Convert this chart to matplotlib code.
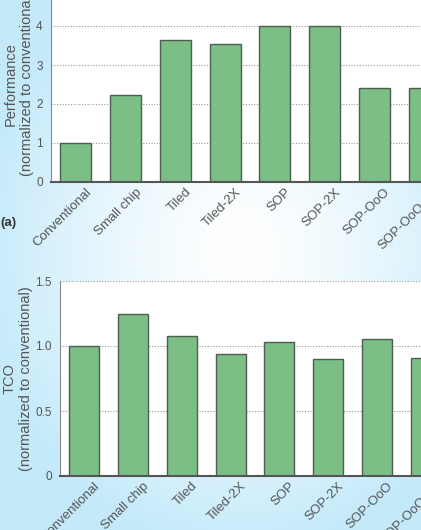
import numpy as np
import matplotlib
matplotlib.use('Agg')
import matplotlib.pyplot as plt

plt.rcParams['font.family'] = ['Liberation Sans', 'DejaVu Sans']

designs = ['Conventional', 'Small chip', 'Tiled', 'Tiled-2X', 'SOP', 'SOP-2X',
           'SOP-OoO', 'SOP-OoO-2X']
performance = [1.0, 2.22, 3.64, 3.53, 4.0, 4.0, 2.42, 2.41]
tco = [1.0, 1.25, 1.077, 0.94, 1.033, 0.90, 1.054, 0.905]

W, H = 421, 530
fig = plt.figure(figsize=(W / 100, H / 100), dpi=100)

# light blue backdrop, whiter in the middle
bg = fig.add_axes([0, 0, 1, 1], zorder=-10)
yy, xx = np.mgrid[0:H, 0:W]
d = np.sqrt(((xx - 240) / 260.0) ** 2 + ((yy - 250) / 300.0) ** 2)
t = np.clip(d, 0, 1) ** 1.4
edge = np.array([196, 234, 250]) / 255.0
img = (1 - t)[..., None] * np.ones(3) + t[..., None] * edge
bg.imshow(img, aspect='auto')
bg.axis('off')

bar_col = '#7bbf87'
edge_col = '#4d5e50'
txt_col = '#555555'


def panel(rect, values, ylim, yticks, yticklabels, ylabel):
    ax = fig.add_axes(rect)
    ax.set_facecolor('white')
    x = np.arange(len(values))
    ax.bar(x, values, width=0.62, color=bar_col, edgecolor=edge_col,
           linewidth=1.0, zorder=3)
    ax.set_xlim(-0.5, len(values) - 0.5)
    ax.set_ylim(*ylim)
    ax.set_yticks(yticks)
    ax.set_yticklabels(yticklabels)
    ax.yaxis.grid(True, linestyle=(0, (1, 1.5)), color='#999999', linewidth=0.8, zorder=0)
    ax.set_xticks(x)
    ax.set_xticklabels([])
    # rotated category names, nudged right of each bar like the original
    for i, name in enumerate(designs):
        ax.annotate(name, xy=(i, 0), xycoords=('data', 'axes fraction'),
                    xytext=(10, -6), textcoords='offset points',
                    rotation=45, ha='right', va='center',
                    rotation_mode='anchor', fontsize=9.5, color=txt_col,
                    annotation_clip=False)
    ax.tick_params(length=0, colors=txt_col)
    ax.tick_params(axis='y', pad=6, labelsize=8.5)
    for s in ['top', 'right']:
        ax.spines[s].set_visible(False)
    ax.spines['left'].set_color('#888888')
    ax.spines['left'].set_linewidth(0.8)
    ax.spines['bottom'].set_color('#555555')
    ax.spines['bottom'].set_linewidth(1.5)
    ax.spines['bottom'].set_zorder(4)
    ax.set_ylabel(ylabel, fontsize=10.5, color=txt_col, linespacing=1.2)
    return ax


ax1 = panel([51 / W, 1 - 182 / H, 398 / W, 195 / H], performance, (0, 5),
            [0, 1, 2, 3, 4, 5], ['0', '1', '2', '3', '4', '5'],
            'Performance\n(normalized to conventional)')
ax2 = panel([60 / W, 1 - 476 / H, 390 / W, 195 / H], tco, (0, 1.5),
            [0, 0.5, 1.0, 1.5], ['0', '0.5', '1.0', '1.5'],
            'TCO\n(normalized to conventional)')

ax1.yaxis.set_label_coords(34 / W, 1 - 84 / H, transform=fig.transFigure)
ax2.yaxis.set_label_coords(33 / W, 1 - 379 / H, transform=fig.transFigure)

fig.text(0 / W, 1 - 223 / H, '(a)', fontsize=9.5, fontweight='bold',
         color='#333333', va='center', ha='left')

fig.savefig('out.png', dpi=100)
